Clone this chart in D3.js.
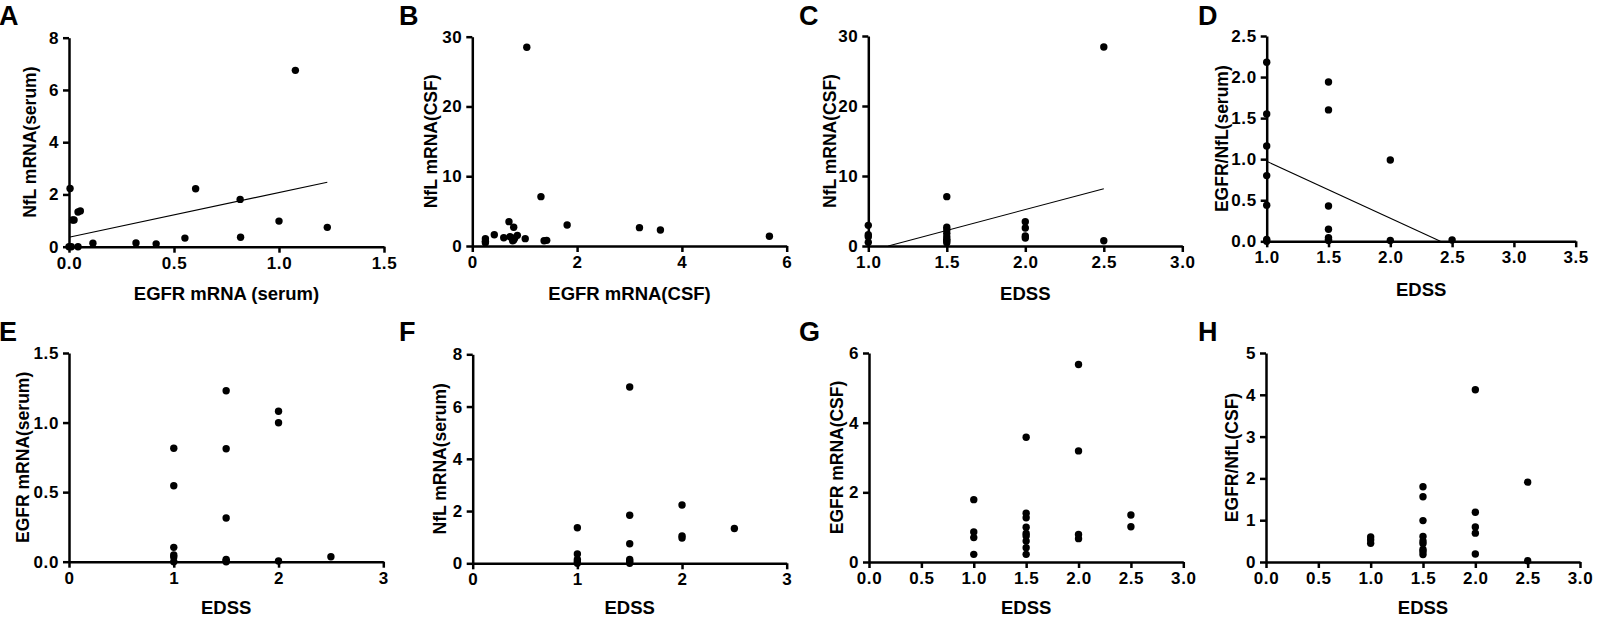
<!DOCTYPE html>
<html>
<head>
<meta charset="utf-8">
<script src="https://cdn.jsdelivr.net/npm/d3@7"></script>
<style>
  html, body { margin: 0; padding: 0; background: #fff; }
  svg { display: block; }
  text { font-family: "Liberation Sans", Arial, sans-serif; font-weight: bold; fill: #000; }
</style>
</head>
<body>
<svg id="chart" width="1599" height="622"></svg>
<script>
// ---------------- DATA ----------------
// A: NfL mRNA (serum) vs EGFR mRNA (serum)
const aX = [0.000, 0.005, 0.017, 0.024, 0.043, 0.054, 0.011, 0.043, 0.114, 0.319, 0.415, 0.552, 0.603, 0.815, 0.817, 1.000, 1.078, 1.230];
const aY = [0.00, 2.23, 1.02, 1.02, 1.33, 1.37, 0.00, 0.00, 0.13, 0.14, 0.11, 0.33, 2.22, 1.81, 0.36, 0.98, 6.75, 0.74];
const aFitX = [0, 1.23];
const aFitY = [0.36, 2.47];
const aXTicks = [0, 0.5, 1.0, 1.5];
const aYTicks = [0, 2, 4, 6, 8];

// B: NfL mRNA (CSF) vs EGFR mRNA (CSF)
const bX = [0.25, 0.25, 0.25, 0.42, 0.60, 0.70, 0.72, 0.79, 0.79, 0.81, 0.86, 0.77, 1.01, 1.04, 1.31, 1.37, 1.42, 1.81, 3.19, 3.59, 5.67];
const bY = [1.05, 0.67, 0.48, 1.62, 1.19, 3.49, 1.34, 2.68, 0.86, 1.15, 1.53, 0.76, 1.05, 28.48, 7.07, 0.76, 0.81, 3.01, 2.63, 2.29, 1.39];
const bXTicks = [0, 2, 4, 6];
const bYTicks = [0, 10, 20, 30];

// C: NfL mRNA (CSF) vs EDSS
const cX = [1.0, 1.0, 1.0, 1.0, 1.5, 1.5, 1.5, 1.5, 1.5, 1.5, 1.5, 1.5, 2.0, 2.0, 2.0, 2.0, 2.5, 2.5];
const cY = [2.95, 1.62, 1.33, 0.52, 7.05, 2.67, 2.29, 1.81, 1.33, 0.95, 0.76, 0.48, 3.48, 2.57, 1.43, 1.14, 28.43, 0.76];
const cFitX = [1.127, 2.5];
const cFitY = [0, 8.19];
const cXTicks = [1.0, 1.5, 2.0, 2.5, 3.0];
const cYTicks = [0, 10, 20, 30];

// D: EGFR/NfL (serum) vs EDSS
const dX = [1.0, 1.0, 1.0, 1.0, 1.0, 1.0, 1.0, 1.5, 1.5, 1.5, 1.5, 1.5, 1.5, 1.5, 2.0, 2.0, 2.5];
const dY = [2.18, 1.55, 1.16, 0.80, 0.44, 0.024, 0.0, 1.94, 1.60, 0.43, 0.146, 0.045, 0.024, 0.01, 0.99, 0.01, 0.016];
const dFitX = [1.0, 2.405];
const dFitY = [0.974, 0];
const dXTicks = [1.0, 1.5, 2.0, 2.5, 3.0, 3.5];
const dYTicks = [0.0, 0.5, 1.0, 1.5, 2.0, 2.5];

// E: EGFR mRNA (serum) vs EDSS
const eX = [1, 1, 1, 1, 1, 1, 1.5, 1.5, 1.5, 1.5, 1.5, 1.5, 2, 2, 2, 2.5];
const eY = [0.815, 0.546, 0.103, 0.048, 0.034, 0.0, 1.229, 0.812, 0.314, 0.017, 0.005, 0.0, 1.081, 0.999, 0.005, 0.036];
const eXTicks = [0, 1, 2, 3];
const eYTicks = [0.0, 0.5, 1.0, 1.5];

// F: NfL mRNA (serum) vs EDSS
const fX = [1, 1, 1, 1, 1, 1.5, 1.5, 1.5, 1.5, 1.5, 1.5, 2, 2, 2, 2.5];
const fY = [1.36, 0.36, 0.15, 0.06, 0.0, 6.75, 1.84, 0.75, 0.15, 0.08, 0.0, 2.23, 1.05, 0.97, 1.33];
const fXTicks = [0, 1, 2, 3];
const fYTicks = [0, 2, 4, 6, 8];

// G: EGFR mRNA (CSF) vs EDSS
const gX = [1.0, 1.0, 1.0, 1.0, 1.5, 1.5, 1.5, 1.5, 1.5, 1.5, 1.5, 1.5, 1.5, 2.0, 2.0, 2.0, 2.0, 2.5, 2.5];
const gY = [1.79, 0.86, 0.70, 0.22, 3.58, 1.40, 1.27, 1.00, 0.82, 0.75, 0.60, 0.41, 0.22, 5.67, 3.19, 0.79, 0.67, 1.35, 1.01];
const gXTicks = [0.0, 0.5, 1.0, 1.5, 2.0, 2.5, 3.0];
const gYTicks = [0, 2, 4, 6];

// H: EGFR/NfL (CSF) vs EDSS
const hX = [1.0, 1.0, 1.0, 1.5, 1.5, 1.5, 1.5, 1.5, 1.5, 1.5, 1.5, 1.5, 2.0, 2.0, 2.0, 2.0, 2.0, 2.5, 2.5];
const hY = [0.60, 0.53, 0.45, 1.80, 1.56, 0.99, 0.61, 0.50, 0.44, 0.30, 0.25, 0.18, 4.12, 1.19, 0.84, 0.69, 0.19, 1.91, 0.03];
const hXTicks = [0.0, 0.5, 1.0, 1.5, 2.0, 2.5, 3.0];
const hYTicks = [0, 1, 2, 3, 4, 5];

const panelLetters = ["A", "B", "C", "D", "E", "F", "G", "H"];
const xTitles = ["EGFR mRNA (serum)", "EGFR mRNA(CSF)", "EDSS", "EDSS", "EDSS", "EDSS", "EDSS", "EDSS"];
const yTitles = ["NfL mRNA(serum)", "NfL mRNA(CSF)", "NfL mRNA(CSF)", "EGFR/NfL(serum)", "EGFR mRNA(serum)", "NfL mRNA(serum)", "EGFR mRNA(CSF)", "EGFR/NfL(CSF)"];

// ---------------- LAYOUT ----------------
const layout = [
  { letterX: 0, letterY: 25, x0: 69, x1: 384, yT: 37.7, yB: 246.7, titleOff: 39, xTitleY: 300, xd: [0, 1.5], yd: [0, 8], xs: aX, ys: aY, fx: aFitX, fy: aFitY, xt: aXTicks, yt: aYTicks, xf: ".1f", yf: "d" },
  { letterX: 400, letterY: 25, x0: 472.3, x1: 786.7, yT: 36.7, yB: 246, titleOff: 41, xTitleY: 300, xd: [0, 6], yd: [0, 30], xs: bX, ys: bY, xt: bXTicks, yt: bYTicks, xf: "d", yf: "d" },
  { letterX: 800, letterY: 25, x0: 868.3, x1: 1182.3, yT: 36, yB: 246, titleOff: 38, xTitleY: 300, xd: [1, 3], yd: [0, 30], xs: cX, ys: cY, fx: cFitX, fy: cFitY, xt: cXTicks, yt: cYTicks, xf: ".1f", yf: "d" },
  { letterX: 1199, letterY: 25, x0: 1266.7, x1: 1575.7, yT: 36, yB: 241.3, titleOff: 45, xTitleY: 296, xd: [1, 3.5], yd: [0, 2.5], xs: dX, ys: dY, fx: dFitX, fy: dFitY, xt: dXTicks, yt: dYTicks, xf: ".1f", yf: ".1f" },
  { letterX: 0, letterY: 341, x0: 69, x1: 383.3, yT: 353, yB: 561.7, titleOff: 46, xTitleY: 614, xd: [0, 3], yd: [0, 1.5], xs: eX, ys: eY, xt: eXTicks, yt: eYTicks, xf: "d", yf: ".1f" },
  { letterX: 400, letterY: 341, x0: 472.7, x1: 786.7, yT: 354.3, yB: 563.3, titleOff: 33, xTitleY: 614, xd: [0, 3], yd: [0, 8], xs: fX, ys: fY, xt: fXTicks, yt: fYTicks, xf: "d", yf: "d" },
  { letterX: 800, letterY: 341, x0: 869, x1: 1183.3, yT: 353, yB: 562, titleOff: 32, xTitleY: 614, xd: [0, 3], yd: [0, 6], xs: gX, ys: gY, xt: gXTicks, yt: gYTicks, xf: ".1f", yf: "d" },
  { letterX: 1199, letterY: 341, x0: 1266, x1: 1580, yT: 353, yB: 562, titleOff: 34, xTitleY: 614, xd: [0, 3], yd: [0, 5], xs: hX, ys: hY, xt: hXTicks, yt: hYTicks, xf: ".1f", yf: "d" }
];

const svg = d3.select("#chart");
const FONT = "\"Liberation Sans\", Arial, sans-serif";

layout.forEach((p, i) => {
  const g = svg.append("g");
  const x = d3.scaleLinear().domain(p.xd).range([p.x0, p.x1]);
  const y = d3.scaleLinear().domain(p.yd).range([p.yB, p.yT]);

  // panel letter
  g.append("text").attr("x", p.letterX - 1).attr("y", p.letterY)
    .attr("font-size", 27).text(panelLetters[i]);

  // axes
  const xa = g.append("g").attr("transform", `translate(0,${p.yB})`)
    .call(d3.axisBottom(x).tickValues(p.xt).tickFormat(d3.format(p.xf)).tickSize(6).tickSizeOuter(0).tickPadding(4));
  const ya = g.append("g").attr("transform", `translate(${p.x0},0)`)
    .call(d3.axisLeft(y).tickValues(p.yt).tickFormat(d3.format(p.yf)).tickSize(6).tickSizeOuter(0).tickPadding(4));
  [xa, ya].forEach(a => {
    a.attr("font-size", null).attr("font-family", null);
    a.select(".domain").attr("stroke", "#000").attr("stroke-width", 2.5);
    a.selectAll(".tick line").attr("stroke", "#000").attr("stroke-width", 2.5);
    a.selectAll(".tick text").attr("font-size", 17).attr("font-family", FONT)
      .attr("font-weight", "bold").attr("fill", "#000").attr("letter-spacing", 0.6);
  });

  // axis titles
  g.append("text").attr("x", (p.x0 + p.x1) / 2).attr("y", p.xTitleY)
    .attr("text-anchor", "middle").attr("font-size", 18.5).text(xTitles[i]);
  g.append("text")
    .attr("transform", `translate(${p.x0 - p.titleOff},${(p.yT + p.yB) / 2}) rotate(-90)`)
    .attr("text-anchor", "middle").attr("dy", "0.35em").attr("font-size", 17.5).text(yTitles[i]);

  // fit line
  if (p.fx) {
    g.append("line")
      .attr("x1", x(p.fx[0])).attr("y1", y(p.fy[0]))
      .attr("x2", x(p.fx[1])).attr("y2", y(p.fy[1]))
      .attr("stroke", "#000").attr("stroke-width", 1.1);
  }

  // points
  const pts = p.xs.map((v, k) => [v, p.ys[k]]);
  g.selectAll("circle.pt").data(pts).enter().append("circle")
    .attr("class", "pt")
    .attr("cx", d => x(d[0])).attr("cy", d => y(d[1]))
    .attr("r", 3.7).attr("fill", "#000");
});
</script>
</body>
</html>
